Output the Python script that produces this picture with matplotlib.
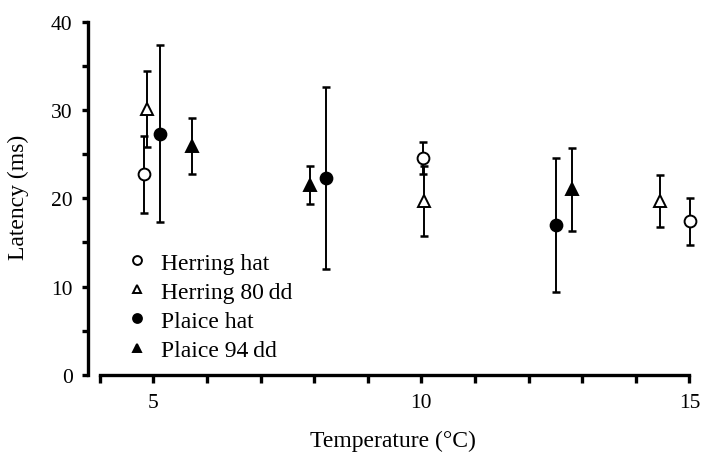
import matplotlib
matplotlib.use("Agg")
import matplotlib.pyplot as plt

# temperature (C), latency (ms), error (ms) per group
herring_hat_t = [4.83, 10.03, 15.01]
herring_hat_lat = [22.7, 24.6, 17.4]
herring_hat_err = [4.4, 1.8, 2.65]

herring_80_t = [4.89, 10.04, 14.46]
herring_80_lat = [30.1, 19.7, 19.7]
herring_80_err = [4.3, 4.0, 2.9]

plaice_hat_t = [5.12, 8.23, 12.51]
plaice_hat_lat = [27.3, 22.3, 17.0]
plaice_hat_err = [10.0, 10.3, 7.6]

plaice_94_t = [5.73, 7.92, 12.81]
plaice_94_lat = [25.9, 21.5, 21.0]
plaice_94_err = [3.2, 2.2, 4.7]

x_major = [5, 10, 15]
x_minor = list(range(4, 16))
y_major = [0, 10, 20, 30, 40]
y_minor = [5, 15, 25, 35]

plt.rcParams["font.family"] = ["Liberation Serif", "DejaVu Serif"]

fig = plt.figure(figsize=(7.06, 4.60), dpi=100)
ax = fig.add_axes([0.1246, 0.1826, 0.864, 0.778])

series = [
    (herring_hat_t, herring_hat_lat, herring_hat_err, "o", "white", "Herring hat"),
    (herring_80_t, herring_80_lat, herring_80_err, "^", "white", "Herring 80\u2009dd"),
    (plaice_hat_t, plaice_hat_lat, plaice_hat_err, "o", "black", "Plaice hat"),
    (plaice_94_t, plaice_94_lat, plaice_94_err, "^", "black", "Plaice 94\u2009dd"),
]

handles = []
for t, lat, err, mk, fc, lab in series:
    ax.errorbar(t, lat, yerr=err, fmt="none", ecolor="black", elinewidth=1.4,
                capsize=3.2, capthick=1.8, zorder=2)
    h, = ax.plot(t, lat, linestyle="none", marker=mk, markersize=8.5,
                 markerfacecolor=fc, markeredgecolor="black",
                 markeredgewidth=1.4, label=lab, zorder=3)
    handles.append(h)

ax.set_xlim(3.78, 15.16)
ax.set_ylim(0, 40.5)
ax.spines["top"].set_visible(False)
ax.spines["right"].set_visible(False)
ax.spines["bottom"].set_bounds(4, 15)
ax.spines["left"].set_bounds(0, 40)
for s in ("left", "bottom"):
    ax.spines[s].set_linewidth(2.4)

ax.set_xticks(x_major)
ax.set_xticks(x_minor, minor=True)
ax.set_yticks(y_major)
ax.set_yticks(y_minor, minor=True)
ax.tick_params(axis="x", which="both", direction="out", length=6, width=2.4,
               labelsize=15.5, pad=7)
ax.tick_params(axis="y", which="both", direction="out", length=4, width=2.4,
               labelsize=15.5, pad=7)

ax.set_xlabel("Temperature (\u00b0C)", fontsize=17, labelpad=13)
ax.set_ylabel("Latency (ms)", fontsize=17, labelpad=16)

leg = ax.legend(handles=handles, loc="upper left", bbox_to_anchor=(0.05, 0.37),
                frameon=False, fontsize=17, markerscale=0.75,
                handlelength=0.8, handletextpad=0.6, labelspacing=0.32,
                borderaxespad=0)

fig.savefig("out.png", dpi=100)
